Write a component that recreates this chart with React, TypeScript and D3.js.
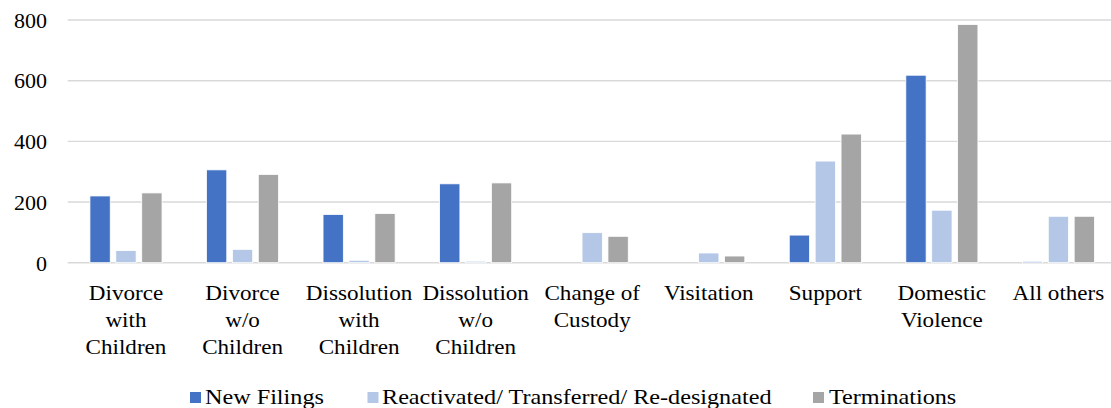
import React from "react";
import * as d3 from "d3";

const categories: string[][] = [
  ["Divorce", "with", "Children"],
  ["Divorce", "w/o", "Children"],
  ["Dissolution", "with", "Children"],
  ["Dissolution", "w/o", "Children"],
  ["Change of", "Custody"],
  ["Visitation"],
  ["Support"],
  ["Domestic", "Violence"],
  ["All others"],
];
const seriesNames = ["New Filings", "Reactivated/ Transferred/ Re-designated", "Terminations"];
const newFilings = [220, 306, 159, 260, 0, 0, 91, 618, 4];
const reactivated = [40, 44, 8, 5, 99, 32, 335, 173, 153];
const terminations = [230, 291, 162, 263, 87, 22, 424, 785, 153];
const yTicks = [0, 200, 400, 600, 800];
const colors = ["#4472C4", "#B4C7E7", "#A5A5A5"];

const W = 1111;
const H = 408;
const SERIF = "'Liberation Serif', 'Times New Roman', Times, serif";

export default function App() {
  const series = [newFilings, reactivated, terminations];
  const keys = categories.map((_, i) => String(i));
  const x0 = d3.scaleBand<string>().domain(keys).range([67.7, 1116.7]).paddingInner(0).paddingOuter(0);
  const groupW = x0.bandwidth();
  const inner = 72.1;
  const off = (groupW - inner) / 2;
  const x1 = d3.scaleBand<string>().domain(seriesNames).range([off, off + inner]).paddingInner(0.216).paddingOuter(0);
  const y = d3.scaleLinear().domain([0, 800]).range([262.7, 20]);

  const legendItems = [
    { sx: 190, tx: 205 },
    { sx: 367.5, tx: 382 },
    { sx: 813, tx: 829 },
  ];

  return (
    <svg width={W} height={H} style={{ position: "absolute", left: 0, top: 0 }}>
      <rect x={0} y={0} width={W} height={H} fill="#fff" />
      {yTicks.map((t) => (
        <line key={"g" + t} x1={67.7} x2={W} y1={y(t)} y2={y(t)} stroke="#D9D9D9" strokeWidth={1.4} />
      ))}
      {yTicks.map((t) => (
        <text key={"t" + t} x={47} y={y(t) + 7.8} textAnchor="end" fontSize={22} fill="#000" style={{ fontFamily: SERIF }}>
          {t}
        </text>
      ))}
      {categories.map((c, i) =>
        series.map((s, j) => {
          const v = s[i];
          const bx = (x0(String(i)) as number) + (x1(seriesNames[j]) as number);
          return (
            <rect
              key={`${i}-${j}`}
              x={bx}
              y={y(v)}
              width={x1.bandwidth()}
              height={Math.max(0, y(0) - y(v))}
              fill={colors[j]}
              stroke="#fff"
              strokeWidth={0.8}
            />
          );
        })
      )}
      {categories.map((c, i) => {
        const cx = (x0(String(i)) as number) + groupW / 2;
        return c.map((line, k) => (
          <text
            key={`c${i}-${k}`}
            transform={`translate(${cx},${299.5 + k * 27.2}) scale(1.05,1)`}
            textAnchor="middle"
            fontSize={22}
            fill="#000"
            style={{ fontFamily: SERIF }}
          >
            {line}
          </text>
        ));
      })}
      {seriesNames.map((n, j) => (
        <rect key={"lr" + j} x={legendItems[j].sx} y={392} width={11} height={11} fill={colors[j]} />
      ))}
      {seriesNames.map((n, j) => (
        <text
          key={"lt" + j}
          transform={`translate(${legendItems[j].tx},403.5) scale(1.1,1)`}
          fontSize={22}
          fill="#000"
          style={{ fontFamily: SERIF }}
        >
          {n}
        </text>
      ))}
    </svg>
  );
}
